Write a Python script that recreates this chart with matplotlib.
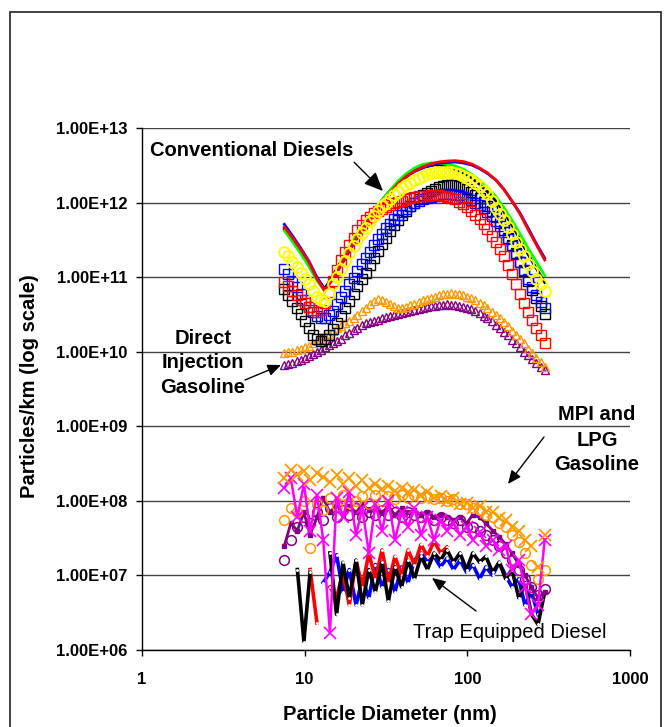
import numpy as np
import matplotlib
matplotlib.use("Agg")
import matplotlib.pyplot as plt
from matplotlib.ticker import FuncFormatter, FixedLocator, NullLocator
from matplotlib.patches import Rectangle

nan = float("nan")

# ---------------- data ----------------
# particle diameters (nm) for the smooth line series
x_cd = [7.5, 8.4, 9.4, 10.6, 11.9, 13.3, 14.9, 16.8, 18.8, 21.1, 23.7, 26.6, 29.9,
        33.5, 37.6, 42.2, 47.3, 53.1, 59.6, 66.8, 75.0, 84.1, 94.4, 106, 119, 133,
        150, 168, 188, 211, 237, 266, 299]

# particle diameters (nm) for the dense marker series
x_dense = [7.50, 7.94, 8.41, 8.91, 9.44, 10.0, 10.6, 11.2, 11.9, 12.6, 13.3, 14.1, 15.0,
           15.8, 16.8, 17.8, 18.8, 20.0, 21.1, 22.4, 23.7, 25.1, 26.6, 28.2, 29.9, 31.6,
           33.5, 35.5, 37.6, 39.8, 42.2, 44.7, 47.3, 50.1, 53.1, 56.2, 59.6, 63.1, 66.8,
           70.8, 75.0, 79.4, 84.1, 89.1, 94.4, 100, 106, 112, 119, 126, 133, 141, 150,
           158, 168, 178, 188, 200, 211, 224, 237, 251, 266, 282, 299]

# Conventional diesels - lines
cd_red_line = [4.7e11, 3.4e11, 2.4e11, 1.6e11, 9.5e10, 6.5e10, 9.5e10, 1.5e11, 2.3e11,
               3.5e11, 5.2e11, 7.2e11, 1.0e12, 1.35e12, 1.8e12, 2.25e12, 2.65e12, 3.0e12,
               3.3e12, 3.5e12, 3.6e12, 3.65e12, 3.55e12, 3.3e12, 2.9e12, 2.5e12, 2.0e12,
               1.5e12, 1.05e12, 7e11, 4.3e11, 2.7e11, 1.7e11]
cd_blue_line = [5.1e11, 3.6e11, 2.5e11, 1.65e11, 1.0e11, 6.8e10, 9.5e10, 1.45e11, 2.2e11,
                3.4e11, 5.0e11, 7.0e11, 9.7e11, 1.3e12, 1.75e12, 2.2e12, 2.6e12, 2.9e12,
                3.15e12, 3.35e12, 3.45e12, 3.5e12, 3.4e12, 3.2e12, 2.85e12, 2.45e12, 2.0e12,
                1.5e12, 1.05e12, 7.2e11, 4.5e11, 2.8e11, 1.8e11]
cd_green_line = [4.2e11, 3.0e11, 2.1e11, 1.4e11, 9e10, 6.5e10, 1.0e11, 1.6e11, 2.5e11,
                 3.8e11, 5.6e11, 7.8e11, 1.08e12, 1.45e12, 1.95e12, 2.45e12, 2.9e12, 3.25e12,
                 3.4e12, 3.4e12, 3.3e12, 3.1e12, 2.8e12, 2.4e12, 2.0e12, 1.6e12, 1.2e12,
                 8.5e11, 5.8e11, 3.8e11, 2.4e11, 1.6e11, 1.05e11]
cd_black_line = [4.4e11, 3.1e11, 2.2e11, 1.45e11, 9.5e10, 7e10, 1.05e11, 1.65e11, 2.5e11,
                 3.8e11, 5.6e11, 7.8e11, 1.08e12, 1.45e12, 1.9e12, 2.35e12, 2.7e12, 3.0e12,
                 3.1e12, 3.1e12, 3.0e12, 2.8e12, 2.5e12, 2.15e12, 1.75e12, 1.4e12, 1.05e12,
                 7.5e11, 5e11, 3.2e11, 2.0e11, 1.3e11, 8.5e10]
# Conventional diesels - marker series (on x_dense)
cd_yellow_o = [2.2e11, 1.9e11, 1.6e11, 1.35e11, 1.15e11, 9.5e10, 8e10, 6.6e10, 5.5e10,
               5e10, 4.8e10, 6e10, 8e10, 1.0e11, 1.3e11, 1.65e11, 2.1e11, 2.6e11, 3.2e11,
               3.9e11, 4.6e11, 5.6e11, 6.7e11, 7.8e11, 9e11, 1.0e12, 1.1e12, 1.25e12,
               1.4e12, 1.55e12, 1.7e12, 1.85e12, 2.0e12, 2.15e12, 2.3e12, 2.4e12, 2.5e12,
               2.55e12, 2.6e12, 2.6e12, 2.6e12, 2.55e12, 2.5e12, 2.4e12, 2.3e12, 2.15e12,
               2.0e12, 1.85e12, 1.65e12, 1.45e12, 1.3e12, 1.05e12, 8.5e11, 7e11, 5.8e11,
               4.7e11, 3.8e11, 3e11, 2.4e11, 1.9e11, 1.5e11, 1.2e11, 9.5e10, 8e10, 6.5e10]
cd_black_sq = [7e10, 5.8e10, 4.8e10, 3.9e10, 3.2e10, 2.6e10, 2.1e10, 1.7e10, 1.5e10,
               1.4e10, 1.5e10, 1.7e10, 2.0e10, 2.4e10, 3.0e10, 3.8e10, 4.8e10, 6e10,
               7.5e10, 9.3e10, 1.15e11, 1.45e11, 1.8e11, 2.25e11, 2.8e11, 3.4e11, 4.2e11,
               5e11, 5.8e11, 6.8e11, 7.8e11, 9e11, 1.0e12, 1.12e12, 1.25e12, 1.35e12,
               1.45e12, 1.53e12, 1.6e12, 1.65e12, 1.7e12, 1.72e12, 1.7e12, 1.65e12, 1.6e12,
               1.5e12, 1.4e12, 1.28e12, 1.15e12, 1.03e12, 9e11, 7.7e11, 6.5e11, 5.3e11,
               4.3e11, 3.4e11, 2.7e11, 2.1e11, 1.6e11, 1.2e11, 9e10, 6.8e10, 5.2e10,
               4.1e10, 3.2e10]
cd_blue_sq = [1.3e11, 1.1e11, 9e10, 7.3e10, 6e10, 4.9e10, 4e10, 3.4e10, 3e10, 2.8e10,
              2.8e10, 3.1e10, 3.5e10, 4.4e10, 5.5e10, 6.6e10, 8e10, 9.8e10, 1.2e11, 1.5e11,
              1.8e11, 2.2e11, 2.7e11, 3.2e11, 3.8e11, 4.5e11, 5.2e11, 6e11, 6.8e11, 7.5e11,
              8.3e11, 9e11, 9.8e11, 1.04e12, 1.1e12, 1.15e12, 1.2e12, 1.24e12, 1.27e12,
              1.29e12, 1.3e12, 1.3e12, 1.28e12, 1.25e12, 1.2e12, 1.15e12, 1.08e12, 1.0e12,
              9.2e11, 8.4e11, 7.5e11, 6.6e11, 5.7e11, 4.8e11, 4.0e11, 3.2e11, 2.6e11,
              2.05e11, 1.6e11, 1.25e11, 9.5e10, 7.4e10, 5.8e10, 4.7e10, 3.8e10]
cd_red_sq = [8.5e10, 7.5e10, 6.5e10, 5.7e10, 5e10, 4.5e10, 4e10, 3.6e10, 3.4e10, 3.6e10,
             4.5e10, 6.3e10, 9e10, 1.25e11, 1.7e11, 2.2e11, 2.7e11, 3.4e11, 4.3e11, 5e11,
             5.8e11, 6.5e11, 7.2e11, 7.8e11, 8.3e11, 8.8e11, 9.3e11, 9.8e11, 1.02e12,
             1.06e12, 1.1e12, 1.14e12, 1.18e12, 1.21e12, 1.23e12, 1.24e12, 1.25e12,
             1.25e12, 1.25e12, 1.23e12, 1.2e12, 1.15e12, 1.1e12, 1.03e12, 9.5e11, 8.7e11,
             7.8e11, 6.9e11, 6e11, 5.2e11, 4.4e11, 3.6e11, 3e11, 2.4e11, 1.9e11, 1.45e11,
             1.1e11, 8e10, 6e10, 4.5e10, 3.4e10, 2.7e10, 2.1e10, 1.65e10, 1.3e10]
# Direct injection gasoline (on x_dense)
di_orange = [9.5e9, 9.8e9, 1.0e10, 1.05e10, 1.1e10, 1.15e10, 1.2e10, 1.3e10, 1.4e10,
             1.5e10, 1.6e10, 1.75e10, 1.9e10, 2.05e10, 2.2e10, 2.4e10, 2.6e10, 2.8e10,
             3.1e10, 3.5e10, 3.9e10, 4.4e10, 4.8e10, 5.1e10, 5.0e10, 4.7e10, 4.4e10,
             4.1e10, 3.9e10, 3.9e10, 4.0e10, 4.2e10, 4.4e10, 4.6e10, 4.9e10, 5.1e10,
             5.3e10, 5.5e10, 5.7e10, 5.9e10, 6.0e10, 6.1e10, 6.0e10, 5.9e10, 5.7e10,
             5.5e10, 5.2e10, 4.9e10, 4.5e10, 4.2e10, 3.8e10, 3.4e10, 3.1e10, 2.8e10,
             2.5e10, 2.2e10, 1.9e10, 1.7e10, 1.5e10, 1.3e10, 1.1e10, 9.5e9, 8.2e9, 7.2e9,
             6.3e9]
di_purple = [6.6e9, 6.8e9, 7.0e9, 7.4e9, 7.8e9, 8.3e9, 8.8e9, 9.4e9, 1.0e10, 1.07e10,
             1.15e10, 1.22e10, 1.3e10, 1.4e10, 1.5e10, 1.65e10, 1.8e10, 1.95e10, 2.1e10,
             2.25e10, 2.4e10, 2.5e10, 2.6e10, 2.7e10, 2.8e10, 2.9e10, 3.0e10, 3.1e10,
             3.2e10, 3.3e10, 3.4e10, 3.5e10, 3.6e10, 3.75e10, 3.9e10, 4.0e10, 4.1e10,
             4.15e10, 4.2e10, 4.25e10, 4.3e10, 4.25e10, 4.2e10, 4.1e10, 4.0e10, 3.85e10,
             3.7e10, 3.5e10, 3.3e10, 3.05e10, 2.8e10, 2.55e10, 2.3e10, 2.05e10, 1.85e10,
             1.65e10, 1.45e10, 1.3e10, 1.15e10, 1.0e10, 9e9, 8e9, 7e9, 6.3e9, 5.6e9]

# particle diameters (nm) for the noisy low-emission distributions
x_pm = [7.50, 8.22, 9.02, 9.89, 10.8, 11.9, 13.0, 14.3, 15.7, 17.2, 18.8, 20.7, 22.6,
        24.8, 27.2, 29.9, 32.7, 35.9, 39.4, 43.2, 47.3, 51.9, 56.9, 62.4, 68.4, 75.0,
        82.2, 90.2, 98.9, 108, 119, 130, 143, 157, 172, 188, 207, 226, 248, 272, 299]

# MPI and LPG gasoline
mpi_orange_x = [2.0e8, 2.6e8, 2.2e8, 2.5e8, 1.9e8, 2.4e8, 2.1e8, 1.8e8, 2.2e8, 1.7e8,
                2.0e8, 1.6e8, 1.9e8, 1.5e8, 1.7e8, 1.45e8, 1.6e8, 1.35e8, 1.5e8, 1.3e8,
                1.4e8, 1.2e8, 1.3e8, 1.1e8, 1.15e8, 1.0e8, 1.1e8, 9e7, 9.5e7, 8e7,
                8.5e7, 7e7, 7e7, 5.8e7, 5.5e7, 4.5e7, 4e7, 3e7, 2.5e7, 1.3e7, 3.5e7]
mpi_orange_o = [5.5e7, 8e7, 7e7, 1.0e8, 2.3e7, 9e7, 7.5e7, 1.1e8, 8.5e7, 1.2e8, 9.5e7,
                1.0e8, 1.15e8, 9e7, 1.2e8, 1.0e8, 1.15e8, 1.05e8, 1.2e8, 1.1e8, 1.2e8,
                1.1e8, 1.15e8, 1.05e8, 1.1e8, 1.0e8, 1.05e8, 9e7, 9e7, 8e7, 7.5e7,
                6.5e7, 6e7, 5e7, 4.5e7, 3.5e7, 2.8e7, 2e7, 1.4e7, 9e6, 1.2e7]
mpi_purple = [2.5e7, 5e7, 4e7, 7e7, 3.5e7, 6e7, 1.1e8, 7e7, 9e7, 6.5e7, 8.5e7, 7e7, 9e7,
              7.5e7, 8e7, 7e7, 8.5e7, 6.5e7, 8e7, 7e7, 7.5e7, 6.5e7, 7e7, 6e7, 6.5e7,
              6e7, 5.5e7, 6e7, 5e7, 6.5e7, 6e7, 5e7, 4e7, 3.3e7, 2.6e7, 2e7, 1.4e7,
              1.0e7, 7e6, 5e6, 6e6]
mpi_purple_o = [1.6e7, 3e7, 4.5e7, 6e7, 5e7, 7e7, 5.5e7, 8e7, 6e7, 7.5e7, 6.5e7, 8e7,
                6e7, 7e7, 6.5e7, 7.5e7, 6.5e7, 7e7, 6e7, 7e7, 6.5e7, 6e7, 6.5e7, 5.5e7,
                6e7, 5.5e7, 5e7, 5.5e7, 4.5e7, 4.5e7, 4e7, 3.5e7, 3e7, 2.5e7, 2e7,
                1.6e7, 1.2e7, 9e6, 7e6, 5.5e6, 6.5e6]
mpi_magenta = [1.5e8, 2.0e8, 6e7, 1.7e8, 4e7, 1.2e8, 3e7, 1.7e6, 1.1e8, 6e7, 1.3e8,
               3.5e7, 8e7, 2e7, 9e7, 4e7, 1.0e8, 3e7, 7e7, 4.5e7, 8e7, 3.5e7, 6e7, 3e7,
               5.5e7, 4e7, 5e7, 3.5e7, 4.5e7, 3e7, 3.8e7, 2.5e7, 3e7, 2.2e7, 2.5e7,
               1.2e7, 1.6e7, 7e6, 3e6, 4e6, 3e7]
# Trap equipped diesels
trap_black = [nan, nan, 1.2e7, 1.3e6, 1.1e7, nan, nan, 2e7, 3e6, 1.5e7, 5e6, 1.6e7, 4e6,
              1.2e7, 6e6, 1.5e7, 4.5e6, 1.3e7, 7e6, 1.6e7, 9e6, 1.8e7, 1.2e7, 2.0e7,
              1.6e7, 2.2e7, 1.5e7, 2.0e7, 1.2e7, 2.0e7, 1.5e7, 1.8e7, 1.1e7, 1.5e7, 9e6,
              1.2e7, 5e6, 8e6, 3e6, 2.2e6, 6e6]
trap_red = [nan, nan, nan, nan, 1.2e7, 2.3e6, nan, 7e6, 5e6, 1.1e7, 4e6, 1.6e7, 7e6,
            2e7, 9e6, 2.2e7, 8e6, 1.8e7, 1e7, 2.2e7, 1.4e7, 2.6e7, 1.8e7, 2.9e7, 2e7,
            2.4e7, nan, nan, nan, nan, nan, nan, nan, nan, nan, nan, nan, nan, nan,
            nan, nan]
trap_blue = [nan, nan, nan, nan, nan, nan, 8e6, 1.1e7, 1.9e7, 6e6, 1.2e7, 4e6, 9e6, 5e6,
             1.4e7, 7e6, 1.2e7, 6e6, 1.3e7, 8e6, 1.6e7, 2e7, 1.5e7, 1.8e7, 1.3e7, 1.7e7,
             1.2e7, 1.6e7, 1.1e7, 1.4e7, 9e6, 1.3e7, 1.0e7, 1.5e7, 1.0e7, 7e6, 9e6, 4e6,
             6e6, 3e6, nan]

x_ticks = [1, 10, 100, 1000]
y_ticks = [1e6, 1e7, 1e8, 1e9, 1e10, 1e11, 1e12, 1e13]

# ---------------- figure ----------------
W, H = 666, 727
fig = plt.figure(figsize=(W / 100, H / 100), dpi=100)
plt.rcParams['font.family'] = ['Liberation Sans', 'DejaVu Sans']
ax = fig.add_axes([142 / W, 1 - 650 / H, (630 - 142) / W, (650 - 128) / H])
ax.set_xscale('log')
ax.set_yscale('log')
ax.set_xlim(1, 1000)
ax.set_ylim(1e6, 1e13)

ax.yaxis.grid(True, color='#444444', lw=1.0, zorder=0)
ax.set_axisbelow(True)

ORANGE = '#FF9900'
PURPLE = '#800080'
MAGENTA = '#FF00FF'

# trap equipped diesels (bottom layer)
for ys, c in [(trap_blue, '#0000FF'), (trap_red, '#FF0000'), (trap_black, '#000000')]:
    ax.plot(x_pm, ys, color=c, lw=2.6, marker='.', ms=2.2, mfc='white', mec='white',
            zorder=2)

# MPI and LPG gasoline
ax.plot(x_pm, mpi_purple, color=PURPLE, lw=2.0, marker='s', ms=2.5, zorder=3)
ax.plot(x_pm, mpi_purple_o, ls='none', marker='o', ms=7, mfc='none', mec=PURPLE,
        mew=1.1, zorder=3)
ax.plot(x_pm, mpi_orange_o, ls='none', marker='o', ms=7, mfc='none', mec=ORANGE,
        mew=1.1, zorder=3)
ax.plot(x_pm, mpi_magenta, color=MAGENTA, lw=1.8, marker='x', ms=8, mew=1.2, zorder=4)
ax.plot(x_pm, mpi_orange_x, ls='none', marker='x', ms=8, mec=ORANGE, mew=1.3, zorder=4)

# Direct injection gasoline
ax.plot(x_dense, di_purple, ls='none', marker='^', ms=6, mfc='none', mec=PURPLE,
        mew=1.0, zorder=5)
ax.plot(x_dense, di_orange, ls='none', marker='^', ms=6, mfc='none', mec=ORANGE,
        mew=1.0, zorder=5)

# Conventional diesels
ax.plot(x_cd, cd_black_line, color='black', lw=2.0, zorder=6)
ax.plot(x_cd, cd_green_line, color='#00FF00', lw=2.0, zorder=6)
ax.plot(x_cd, cd_blue_line, color='#0000FF', lw=2.0, zorder=6)
ax.plot(x_cd, cd_red_line, color='#FF0000', lw=2.0, zorder=6)
ax.plot(x_dense, cd_black_sq, ls='none', marker='s', ms=7, mfc='none', mec='black',
        mew=1.0, zorder=7)
ax.plot(x_dense, cd_blue_sq, ls='none', marker='s', ms=7, mfc='none', mec='#0000FF',
        mew=1.0, zorder=7)
ax.plot(x_dense, cd_red_sq, ls='none', marker='s', ms=7, mfc='none', mec='#FF0000',
        mew=1.0, zorder=7)
ax.plot(x_dense, cd_yellow_o, ls='none', marker='o', ms=7.8, mfc='none', mec='#FFFF00',
        mew=1.4, zorder=8)

# axes styling
for s in ['top', 'right']:
    ax.spines[s].set_visible(False)
for s in ['left', 'bottom']:
    ax.spines[s].set_color('black')
    ax.spines[s].set_linewidth(1.0)
ax.xaxis.set_major_locator(FixedLocator(x_ticks))
ax.yaxis.set_major_locator(FixedLocator(y_ticks))
ax.xaxis.set_minor_locator(NullLocator())
ax.yaxis.set_minor_locator(NullLocator())
ax.xaxis.set_major_formatter(FuncFormatter(lambda v, p: f"{v:g}"))
ax.yaxis.set_major_formatter(FuncFormatter(lambda v, p: f"{v:.2E}"))
ax.tick_params(axis='x', direction='out', length=4.5, width=1, pad=11, labelsize=12)
ax.tick_params(axis='y', direction='out', length=4.5, width=1, pad=6, labelsize=12)
for lab in ax.get_xticklabels() + ax.get_yticklabels():
    lab.set_fontweight('bold')

ax.set_xlabel('Particle Diameter (nm)', fontsize=14.5, fontweight='bold')
ax.set_ylabel('Particles/km (log scale)', fontsize=14.5, fontweight='bold')
ax.xaxis.set_label_coords((390 - 142) / (630 - 142), (650 - 715) / (650 - 128))
ax.xaxis.label.set_va('center')
ax.yaxis.set_label_coords((30 - 142) / (630 - 142), (650 - 386) / (650 - 128))
ax.yaxis.label.set_va('center')


def fp(px, py):
    return (px, H - py)


arrow = dict(arrowstyle='-|>,head_length=0.8,head_width=0.35', color='black', lw=1.0,
             shrinkA=0, shrinkB=0)
bold = dict(fontsize=14.5, fontweight='bold')

ax.annotate('Conventional Diesels', xy=fp(383, 191), xycoords='figure pixels',
            xytext=fp(150, 150), textcoords='figure pixels', ha='left', va='center',
            arrowprops=dict(arrow, relpos=(0.99, 0.0)), zorder=10, **bold)
ax.annotate('', xy=fp(281, 365), xycoords='figure pixels', xytext=fp(245, 380),
            textcoords='figure pixels', arrowprops=arrow, zorder=10)
fig.text(203 / W, 1 - 363 / H, 'Direct\nInjection\nGasoline', ha='center', va='center',
         linespacing=1.35, **bold)
ax.annotate('', xy=fp(508, 484), xycoords='figure pixels', xytext=fp(544, 437),
            textcoords='figure pixels', arrowprops=arrow, zorder=10)
fig.text(597 / W, 1 - 440 / H, 'MPI and\nLPG\nGasoline', ha='center', va='center',
         linespacing=1.4, **bold)
ax.annotate('', xy=fp(432, 578), xycoords='figure pixels', xytext=fp(476, 611),
            textcoords='figure pixels', arrowprops=arrow, zorder=10)
fig.text(510 / W, 1 - 633 / H, 'Trap Equipped Diesel', ha='center', va='center',
         fontsize=14.5)

# outer chart border
fig.patches.append(Rectangle((10 / W, -0.05), (661 - 10) / W, 1 - 12 / H + 0.05,
                             transform=fig.transFigure, fill=False, ec='#333333',
                             lw=1.3, clip_on=False))

fig.savefig('out.png', dpi=100)
